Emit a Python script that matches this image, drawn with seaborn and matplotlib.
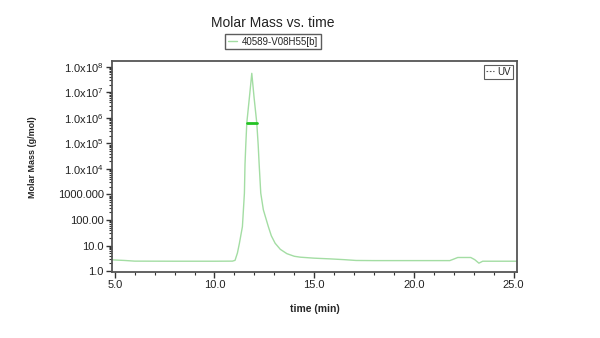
import matplotlib
matplotlib.use("Agg")
import matplotlib.pyplot as plt
from matplotlib.lines import Line2D
from matplotlib.ticker import FixedLocator, FixedFormatter, LogLocator, MultipleLocator, NullFormatter
import numpy as np
import pandas as pd
import seaborn as sns

# Chromatogram trace: elution time (min) and molar mass (g/mol)
time_min = [4.86, 5.5, 6.0, 8.0, 10.0, 10.9, 11.03, 11.15, 11.25, 11.40, 11.45,
            11.50, 11.53, 11.57, 11.62, 11.75, 11.87, 11.985, 12.12, 12.19, 12.24,
            12.32, 12.45, 12.70, 12.85, 13.04, 13.3, 13.63, 14.0, 14.3, 15.0,
            15.8, 16.5, 17.1, 18.0, 20.0, 21.8, 22.0, 22.2, 22.85, 23.05, 23.26,
            23.45, 24.0, 25.17]
molar_mass = [2.75, 2.6, 2.45, 2.43, 2.43, 2.45, 2.63, 5.1, 12.3, 55.0, 250.0,
              1120.0, 1.5e4, 8.9e4, 6.3e5, 6.2e6, 5.5e7, 6.2e6, 6.3e5, 8.9e4, 1.5e4,
              1120.0, 250.0, 55.0, 24.0, 12.3, 7.1, 4.8, 3.8, 3.5, 3.2,
              3.0, 2.8, 2.6, 2.57, 2.57, 2.57, 2.95, 3.4, 3.4, 2.8, 2.04,
              2.43, 2.43, 2.43]

# Averaged molar mass over the integrated peak range
peak_range = [11.62, 12.12]
peak_mass = [6.3e5, 6.3e5]

series_label = "40589-V08H55[b]"
uv_label = "UV"
y_ticks = [1e0, 1e1, 1e2, 1e3, 1e4, 1e5, 1e6, 1e7, 1e8]
y_tick_labels = ["1.0", "10.0", "100.00", "1000.000", r"1.0x10$^{4}$", r"1.0x10$^{5}$",
                 r"1.0x10$^{6}$", r"1.0x10$^{7}$", r"1.0x10$^{8}$"]
x_ticks = [5, 10, 15, 20, 25]
x_tick_labels = ["5.0", "10.0", "15.0", "20.0", "25.0"]

sns.set_style("ticks")
plt.rcParams["font.family"] = ["Liberation Sans", "DejaVu Sans"]
plt.rcParams["mathtext.fontset"] = "custom"
plt.rcParams["mathtext.rm"] = "Liberation Sans"
plt.rcParams["mathtext.it"] = "Liberation Sans"

trace = pd.DataFrame({"time": time_min, "mass": molar_mass})
avg = pd.DataFrame({"time": peak_range, "mass": peak_mass})

fig = plt.figure(figsize=(6.0, 3.38), dpi=100)
ax = fig.add_axes([112 / 600, 1 - 272 / 338, (517 - 112) / 600, (272 - 61) / 338])

sns.lineplot(data=trace, x="time", y="mass", ax=ax, color="#a3dda3", lw=1.0,
             sort=False, estimator=None)
sns.lineplot(data=avg, x="time", y="mass", ax=ax, color="#22c322", lw=2.0,
             sort=False, estimator=None)

ax.set_yscale("log")
ax.set_xlim(4.86, 25.17)
ax.set_ylim(0.92, 1.67e8)

ax.yaxis.set_major_locator(FixedLocator(y_ticks))
ax.yaxis.set_major_formatter(FixedFormatter(y_tick_labels))
ax.yaxis.set_minor_locator(LogLocator(base=10, subs=np.arange(2, 10), numticks=20))
ax.yaxis.set_minor_formatter(NullFormatter())
ax.xaxis.set_major_locator(FixedLocator(x_ticks))
ax.xaxis.set_major_formatter(FixedFormatter(x_tick_labels))
ax.xaxis.set_minor_locator(MultipleLocator(1))

ax.tick_params(axis="both", which="major", direction="out", length=4, width=1.0,
               color="#333333", labelsize=8, labelcolor="#222222", pad=2)
ax.tick_params(axis="both", which="minor", direction="out", length=2.5, width=0.8,
               color="#333333")

for sp in ax.spines.values():
    sp.set_visible(True)
    sp.set_color("#555555")
    sp.set_linewidth(1.3)

ax.set_xlabel("time (min)", fontsize=7.5, fontweight="bold", labelpad=10)
ax.set_ylabel("Molar Mass (g/mol)", fontsize=6.5, fontweight="bold", labelpad=10)
ax.yaxis.set_label_coords(-0.185, 0.545)

fig.text(273 / 600, 1 - 22.7 / 338, "Molar Mass vs. time", ha="center", va="center",
         fontsize=10, color="#222222")

series_handle = Line2D([], [], color="#a3dda3", lw=1.0)
fig.legend([series_handle], [series_label], loc="center",
           bbox_to_anchor=(273 / 600, 1 - 41.7 / 338), fontsize=7, frameon=True,
           fancybox=False, edgecolor="#333333", handlelength=1.0, handletextpad=0.5,
           borderpad=0.25, borderaxespad=0)

uv_handle = Line2D([], [], color="#555555", lw=0.8, ls=(0, (1.5, 1.5)))
uv_leg = ax.legend([uv_handle], [uv_label], loc="upper right", fontsize=7, frameon=True,
                   fancybox=False, edgecolor="#333333", handlelength=0.8,
                   handletextpad=0.4, borderpad=0.2, borderaxespad=0.4)
uv_leg.get_frame().set_linewidth(0.8)

fig.savefig("out.png", dpi=100)
